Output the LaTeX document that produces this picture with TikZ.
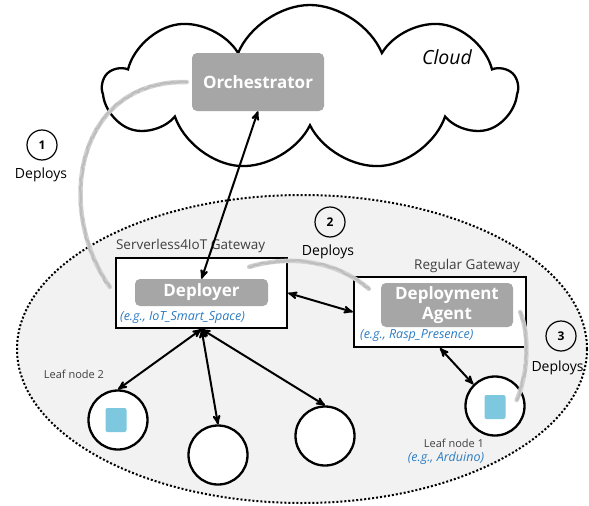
\documentclass[tikz,border=0pt]{standalone}
\usepackage{fontspec}
\setmainfont{Open Sans}
\usepackage{tikz}
\usetikzlibrary{arrows,shapes.geometric,shapes.symbols,decorations.pathmorphing}
\definecolor{boxgray}{HTML}{A6A6A6}
\definecolor{fog}{HTML}{F2F2F2}
\definecolor{chipblue}{HTML}{7DC8DE}
\definecolor{egblue}{HTML}{2B7CC4}
\definecolor{sketch}{HTML}{BDBDBD}
\definecolor{lbltext}{HTML}{3F3F3F}

\begin{document}
\begin{tikzpicture}[x=1pt, y=-1pt, >=stealth',
	gbox/.style={rectangle, rounded corners=5pt, fill=boxgray, text=white, align=center, inner sep=2pt, font=\bfseries\fontsize{17}{20}\selectfont},
	gateway/.style={rectangle, draw, line width=2.3pt, fill=white},
	leaf/.style={circle, draw, line width=2.3pt, fill=white, minimum size=59pt},
	chip/.style={rectangle, rounded corners=2pt, fill=chipblue, minimum width=21pt, minimum height=24pt},
	numbox/.style={circle, draw, line width=1.2pt, minimum size=30pt, inner sep=0pt, font=\bfseries\fontsize{12}{14}\selectfont},
	hand/.style={font=\fontsize{14}{16}\selectfont},
	tag/.style={text=lbltext, inner sep=1pt, font=\fontsize{13.5}{16}\selectfont},
	eg/.style={text=egblue, inner sep=0pt, font=\itshape\fontsize{12.5}{15}\selectfont},
	link/.style={<->, line width=2pt},
	trail/.style={draw=sketch!70, line width=4.5pt, line cap=round},
	grain/.style={draw=sketch, line width=2pt, line cap=round, decorate, decoration={random steps, segment length=2.5pt, amplitude=1pt}}]
	\useasboundingbox (0,0) rectangle (589,506);
	\node[ellipse, draw, fill=fog, line width=2pt, dash pattern=on 2pt off 2pt, minimum width=570pt, minimum height=308pt] (lan) at (302,349) {};
	\node[cloud, draw, fill=white, line width=2.3pt, cloud puffs=9, cloud puff arc=135, aspect=2.5, minimum width=412pt, minimum height=166pt] (sky) at (310,88) {};
	\node[font=\itshape\fontsize{19.5}{22}\selectfont] (skylbl) at (447,57) {Cloud};
	\node[gbox, minimum width=132pt, minimum height=58pt] (orch) at (258,82) {Orchestrator};

	\node[gateway, minimum width=171pt, minimum height=70pt] (sgw) at (201.5,293) {};
	\node[gateway, minimum width=172pt, minimum height=70pt] (rgw) at (440,312) {};
	\node[tag, anchor=base west] (sgwlbl) at ([shift={(0,-7)}]sgw.north west) {Serverless4IoT Gateway};
	\node[tag, anchor=base east] (rgwlbl) at ([shift={(-6,-6)}]rgw.north east) {Regular Gateway};
	\node[gbox, minimum width=133pt, minimum height=27pt] (dep) at (201.5,292.5) {Deployer};
	\node[gbox, minimum width=132pt, minimum height=44pt] (agent) at (447,305) {Deployment\\Agent};
	\node[eg, anchor=west] (depeg) at (120,317) {(e.g., IoT\_Smart\_Space)};
	\node[eg, anchor=west] (agenteg) at (360,336) {(e.g., Rasp\_Presence)};

	\node[leaf] (leafA) at (118,420) {};
	\node[leaf] (leafB) at (218,455) {};
	\node[leaf] (leafC) at (325,436) {};
	\node[leaf] (leafD) at (495,406) {};
	\node[chip] (chipA) at (116,420) {};
	\node[chip] (chipD) at (495,407) {};
	\node[tag, font=\fontsize{11}{13}\selectfont] (leafAlbl) at (74,374) {Leaf node 2};
	\node[tag, font=\fontsize{11}{13}\selectfont] (leafDlbl) at (454,443) {Leaf node 1};
	\node[eg] (leafDeg) at (446,458) {(e.g., Arduino)};

	\path	(dep.north)	edge[link]	(orch.south)
			(sgw.east)	edge[link]	(rgw.west)
			(rgw.south)	edge[link]	(leafD.135)
			(sgw.south)	edge[link]	(leafA.north)
			(sgw.south)	edge[link]	(leafB.north)
			(sgw.south)	edge[link]	(leafC.north);

	\draw[trail] ([xshift=-5pt]orch.west) .. controls (75,80) and (55,210) .. ([shift={(-5,-6)}]sgw.west);
	\draw[grain] ([xshift=-5pt]orch.west) .. controls (75,80) and (55,210) .. ([shift={(-5,-6)}]sgw.west);
	\draw[trail] ([shift={(-39,10)}]sgw.north east) .. controls (290,255) and (335,260) .. ([shift={(16,13)}]rgw.north west);
	\draw[grain] ([shift={(-39,10)}]sgw.north east) .. controls (290,255) and (335,260) .. ([shift={(16,13)}]rgw.north west);
	\draw[trail] ([xshift=-7pt]rgw.east) .. controls (530,335) and (528,375) .. ([shift={(-9,-6)}]leafD.east);
	\draw[grain] ([xshift=-7pt]rgw.east) .. controls (530,335) and (528,375) .. ([shift={(-9,-6)}]leafD.east);

	\node[numbox] (one) at (42,145) {1};
	\node[hand] (oneact) at (41,175) {Deploys};
	\node[numbox] (two) at (330,222) {2};
	\node[hand] (twoact) at (328,252) {Deploys};
	\node[numbox] (three) at (561,336) {3};
	\node[hand, anchor=west] (threeact) at (528,368) {Deploys};
\end{tikzpicture}
\end{document}
